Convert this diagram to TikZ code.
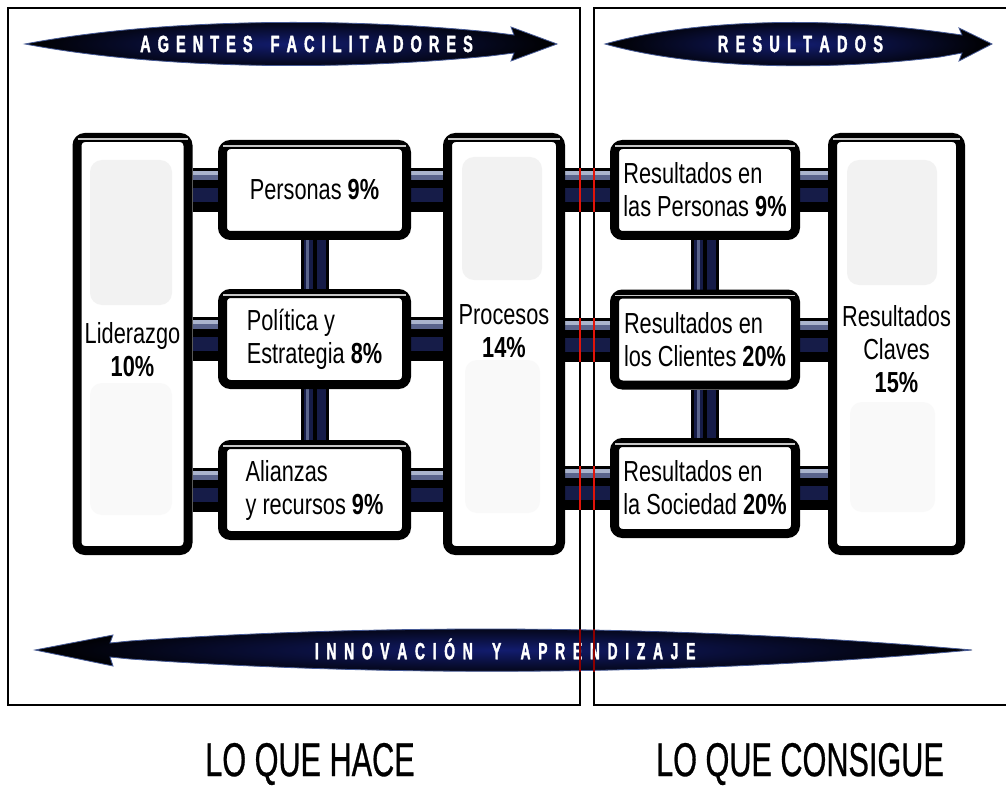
\documentclass[tikz,border=0pt]{standalone}
\usepackage{fontspec}
\setmainfont{Liberation Sans}
\newfontfamily\boxfont[FakeStretch=0.75]{Liberation Sans}
\newfontfamily\banfont[FakeStretch=0.62,FakeBold=1.6]{Liberation Sans}
\newfontfamily\banfontb[FakeStretch=0.59,FakeBold=1.4]{Liberation Sans}
\newfontfamily\bigfont[FakeStretch=0.645,FakeBold=0.6]{Liberation Sans}
\def\spreadit#1#2{\def\spreadamt{#1}\spreadaux#2\relax}
\def\spreadaux#1{\ifx#1\relax\else#1\kern\spreadamt\relax\expandafter\spreadaux\fi}
\pgfdeclarelayer{framelayer}
\pgfdeclarelayer{pipelayer}
\pgfdeclarelayer{front}
\pgfsetlayers{framelayer,pipelayer,main,front}
\definecolor{pipelight}{RGB}{170,180,205}
\definecolor{pipemid}{RGB}{90,100,140}
\definecolor{pipenavy}{RGB}{22,28,72}
\definecolor{bannavy}{RGB}{18,28,110}
\definecolor{banedge}{RGB}{70,90,150}
\definecolor{redseg}{RGB}{225,20,10}
\definecolor{darkredseg}{RGB}{140,0,0}
\begin{document}
\begin{tikzpicture}[x=1pt,y=-1pt,
  box/.style={draw=black, line width=9pt, rounded corners=8pt, fill=white, inner sep=0pt,
    font=\boxfont\fontsize{29}{33}\selectfont, align=left},
  smallL/.style={box, minimum width=184pt, minimum height=91pt},
  smallR/.style={box, minimum width=181pt, minimum height=91pt},
  tall/.style={box, minimum height=413pt},
  talltext/.style={font=\boxfont\fontsize{29}{33}\selectfont, align=center, inner sep=0pt},
  hpipe/.style={line width=44pt, draw=black,
    postaction={draw=pipenavy, line width=14pt, transform canvas={yshift=-5pt}},
    postaction={draw=pipemid, line width=6pt, transform canvas={yshift=13pt}},
    postaction={draw=pipelight, line width=4pt, transform canvas={yshift=17pt}}},
  vpipe/.style={line width=28pt, draw=black,
    postaction={draw=pipenavy, line width=22pt},
    postaction={draw=pipemid, line width=3pt, transform canvas={xshift=-7pt}},
    postaction={draw=black, line width=4pt}},
  frame/.style={draw=black, line width=2.6pt},
  banner/.style={inner color=bannavy, outer color=black, draw=banedge, line width=0.8pt},
  bantext/.style={text=white, font=\banfont\bfseries\fontsize{23.5}{23.5}\selectfont, inner sep=0pt},
  bantextb/.style={text=white, font=\banfontb\bfseries\fontsize{23.5}{23.5}\selectfont, inner sep=0pt},
  bigtext/.style={font=\bigfont\fontsize{47.5}{47.5}\selectfont, inner sep=0pt},
  hl/.style={draw=gray!45, line width=1.2pt},
  graypatch/.style={rounded corners=12pt}
]
\useasboundingbox (0,0) rectangle (1006,786);

% background and frames
\begin{pgfonlayer}{framelayer}
\fill[white] (0,0) rectangle (1006,786);
\draw[frame] (8,8) rectangle (580,705);
\draw[frame] (1006,8) -- (594,8) -- (594,705) -- (1006,705);
\end{pgfonlayer}

% boxes
\node[tall, minimum width=111pt] (lid) at (132.5,344) {};
\node[smallL] (per) at (314.5,190) {Personas \textbf{9\%}};
\node[smallL] (pol) at (314.5,339) {Política y\\Estrategia \textbf{8\%}};
\node[smallL] (ali) at (314.5,490) {Alianzas\\y recursos \textbf{9\%}};
\node[tall, minimum width=113pt] (proc) at (504,344) {};
\node[smallR] (rper) at (705,190) {Resultados en\\las Personas \textbf{9\%}};
\node[smallR] (rcli) at (705,339.5) {Resultados en\\los Clientes \textbf{20\%}};
\node[smallR] (rsoc) at (705,488) {Resultados en\\la Sociedad \textbf{20\%}};
\node[tall, minimum width=128pt] (rc) at (896.5,344) {};

% highlights inside the boxes
\foreach \n in {lid,per,pol,ali,proc,rper,rcli,rsoc,rc}
  \draw[hl] ([xshift=5pt,yshift=-6pt]\n.north west) -- ([xshift=-5pt,yshift=-6pt]\n.north east);

% gray patches in tall boxes
\fill[gray!10, graypatch] (90,160) rectangle (172,305);
\fill[gray!5, graypatch] (90,383) rectangle (172,515);
\fill[gray!10, graypatch] (462,157) rectangle (542,280);
\fill[gray!5, graypatch] (465,360) rectangle (540,513);
\fill[gray!10, graypatch] (847,160) rectangle (937,285);
\fill[gray!5, graypatch] (850,402) rectangle (935,512);

% tall box texts
\node[talltext] (lidT) at (132.5,350) {Liderazgo\\\textbf{10\%}};
\node[talltext] (procT) at (504,331) {Procesos\\\textbf{14\%}};
\node[talltext] (rcT) at (896.5,349) {Resultados\\Claves\\\textbf{15\%}};

% pipes
\begin{pgfonlayer}{pipelayer}
\foreach \s in {per,pol,ali} {
  \draw[hpipe] (lid.east |- \s.west) -- (\s.west);
  \draw[hpipe] (\s.east) -- (proc.west |- \s.east);
}
\foreach \s in {rper,rcli,rsoc} {
  \draw[hpipe] (proc.east |- \s.west) -- (\s.west);
  \draw[hpipe] (\s.east) -- (rc.west |- \s.east);
}
\draw[vpipe] (per.south) -- (pol.north);
\draw[vpipe] (pol.south) -- (ali.north);
\draw[vpipe] (rper.south) -- (rcli.north);
\draw[vpipe] (rcli.south) -- (rsoc.north);
\end{pgfonlayer}

% banners
\shade[banner] (25,44) .. controls (150,20) and (330,16) .. (490,32) -- (514,35) -- (511,27)
  -- (557,44) -- (511,61) -- (514,53) -- (490,56) .. controls (330,72) and (150,68) .. cycle;
\shade[banner] (605,44) .. controls (690,20) and (820,16) .. (940,32) -- (962,35) -- (959,28)
  -- (992,44) -- (959,61) -- (962,53) -- (940,57) .. controls (820,72) and (690,68) .. cycle;
\shade[banner] (35,650) -- (113,635) -- (110,643) -- (130,641) .. controls (400,622) and (700,626) .. (972,650)
  .. controls (700,675) and (400,678) .. (130,659) -- (110,657) -- (113,666) -- cycle;

\node[bantext] (afT) at (310,44) {\spreadit{7pt}{AGENTES~FACILITADORES}};
\node[bantext] (resT) at (804,44) {\spreadit{7.2pt}{RESULTADOS}};
\node[bantextb] (iaT) at (509,649) {\spreadit{7.7pt}{INNOVACIÓN~Y~APRENDIZAJE}};

% red crossings
\begin{pgfonlayer}{front}
\foreach \s in {rper,rcli,rsoc} {
  \draw[redseg, line width=2pt] (580,0 |- \s.west) ++(0,-22) -- ++(0,44);
  \draw[redseg, line width=2pt] (594,0 |- \s.west) ++(0,-22) -- ++(0,44);
}
\draw[darkredseg, line width=2pt] (580,629) -- (580,672);
\draw[darkredseg, line width=2pt] (594,629) -- (594,672);
\end{pgfonlayer}

% bottom labels
\node[bigtext] (hace) at (310,764) {LO QUE HACE};
\node[bigtext] (consigue) at (800,764) {LO QUE CONSIGUE};
\end{tikzpicture}
\end{document}
